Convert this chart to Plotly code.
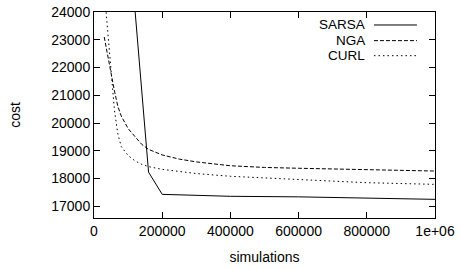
import plotly.graph_objects as go

# Data
sarsa_x = [120000, 160000, 200000, 300000, 400000, 600000, 800000, 1000000]
sarsa_y = [24100, 18230, 17430, 17390, 17360, 17340, 17300, 17250]

nga_x = [30000, 40000, 50000, 60000, 70000, 80000, 100000, 120000, 140000, 160000,
         200000, 250000, 300000, 400000, 500000, 600000, 700000, 800000, 900000, 1000000]
nga_y = [23100, 22400, 21800, 21150, 20600, 20250, 19800, 19500, 19230, 19050,
         18850, 18700, 18600, 18460, 18400, 18370, 18350, 18330, 18310, 18270]

curl_x = [30000, 40000, 50000, 60000, 70000, 80000, 100000, 120000, 140000, 160000,
          200000, 300000, 400000, 500000, 600000, 700000, 800000, 900000, 1000000]
curl_y = [24800, 23360, 22000, 20450, 19600, 19150, 18830, 18640, 18510, 18430,
          18330, 18180, 18080, 18020, 17960, 17900, 17850, 17820, 17790]

x_ticks = [0, 200000, 400000, 600000, 800000, 1000000]
x_tick_text = ["0", "200000", "400000", "600000", "800000", "1e+06"]
y_ticks = [17000, 18000, 19000, 20000, 21000, 22000, 23000, 24000]
y_tick_text = ["17000", "18000", "19000", "20000", "21000", "22000", "23000", "24000"]

series = [
    ("SARSA", sarsa_x, sarsa_y, "solid"),
    ("NGA", nga_x, nga_y, "4px,2px"),
    ("CURL", curl_x, curl_y, "1.5px,3px"),
]

FONT = "Liberation Sans, Arial, sans-serif"

fig = go.Figure()
for name, xs, ys, dash in series:
    fig.add_trace(go.Scatter(x=xs, y=ys, mode="lines", name=name,
                             line=dict(color="black", width=1, dash=dash),
                             showlegend=False, hoverinfo="skip"))

# Gnuplot-style legend: right-aligned text followed by line sample
leg_y = [0.937, 0.861, 0.788]
for (name, xs, ys, dash), ly in zip(series, leg_y):
    fig.add_annotation(x=0.797, y=ly, xref="paper", yref="paper", text=name,
                       showarrow=False, xanchor="right", yanchor="middle",
                       borderpad=0,
                       font=dict(family=FONT, size=13.5, color="black"))
    fig.add_shape(type="line", xref="paper", yref="paper",
                  x0=0.821, x1=0.947, y0=ly, y1=ly,
                  line=dict(color="black", width=1, dash=dash))

axis_common = dict(showgrid=False, zeroline=False, showline=True, mirror="ticks",
                   linecolor="black", linewidth=1, ticks="inside", ticklen=6,
                   tickcolor="black", tickwidth=1, automargin=False,
                   tickfont=dict(family=FONT, size=14, color="black"))

fig.update_xaxes(range=[0, 1000000], tickvals=x_ticks, ticktext=x_tick_text,
                 title=dict(text="simulations", standoff=14,
                            font=dict(family=FONT, size=14, color="black")),
                 **axis_common)
fig.update_yaxes(range=[16578, 24000], tickvals=y_ticks, ticktext=y_tick_text,
                 title=dict(text="cost", standoff=27,
                            font=dict(family=FONT, size=14, color="black")),
                 **axis_common)

fig.update_layout(width=461, height=269,
                  margin=dict(l=94, r=26, t=12, b=51),
                  paper_bgcolor="white", plot_bgcolor="white",
                  font=dict(family=FONT, size=14, color="black"))

fig.write_html("out.html", config={"displayModeBar": False},
               post_script="document.body.style.margin='0';document.body.style.overflow='hidden';")
